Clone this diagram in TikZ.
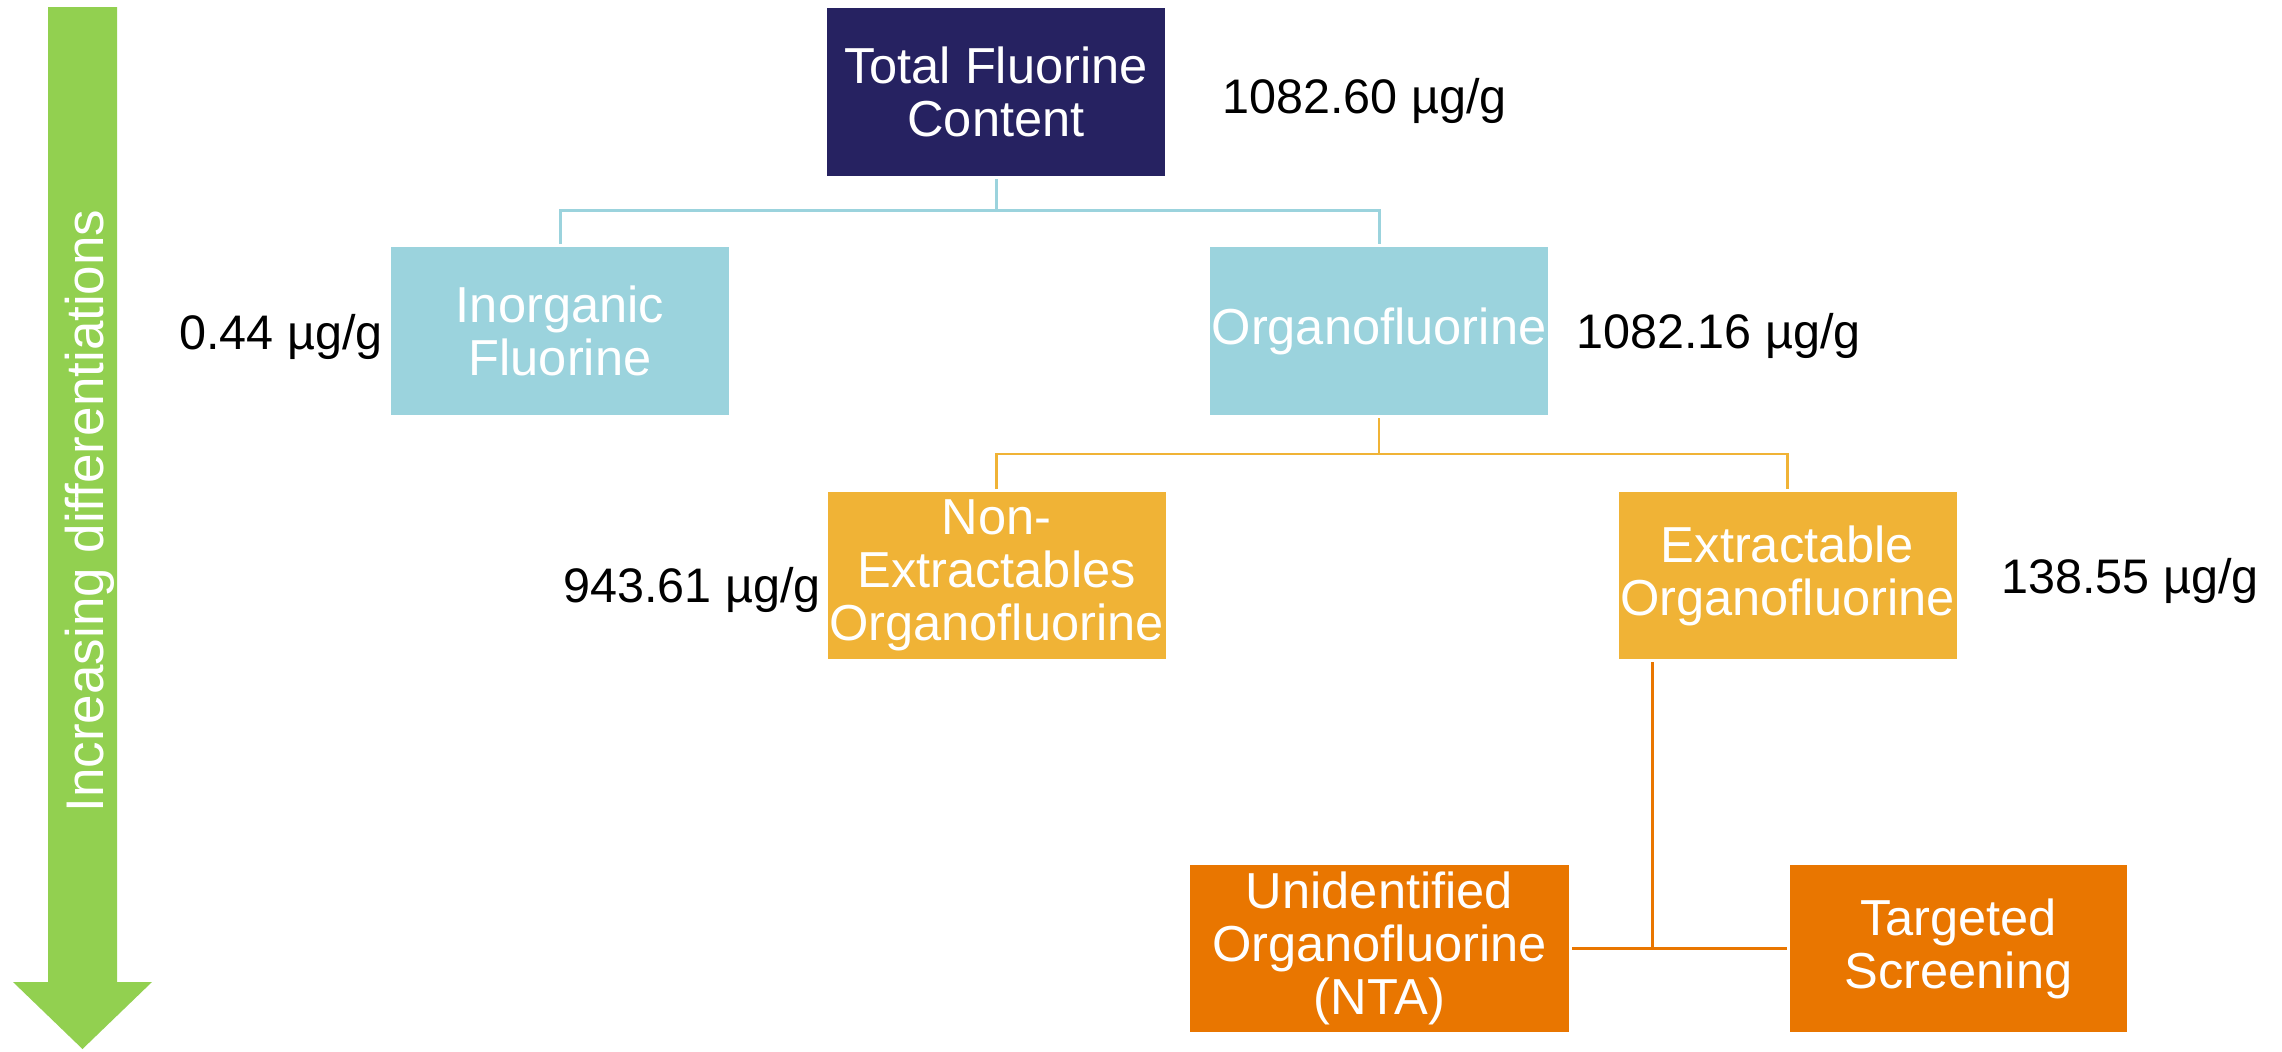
\documentclass[tikz,border=0pt]{standalone}
\usepackage{fontspec}
\setmainfont{Liberation Sans}
\definecolor{navy}{HTML}{262261}
\definecolor{cyanbox}{HTML}{9BD3DD}
\definecolor{lorange}{HTML}{F0B336}
\definecolor{dorange}{HTML}{E97600}
\definecolor{arrowgreen}{HTML}{92D050}
\begin{document}
\begin{tikzpicture}[x=0.5pt,y=-0.5pt,
  box/.style={rectangle, inner sep=0pt, outer sep=1.5pt, text=white, align=center,
    font=\fontsize{25.3pt}{26.5pt}\selectfont, minimum height=84pt, minimum width=169pt},
  lvlA/.style={box, fill=navy},
  lvlB/.style={box, fill=cyanbox},
  lvlC/.style={box, fill=lorange},
  lvlD/.style={box, fill=dorange},
  val/.style={inner sep=0pt, anchor=base west, text=black, font=\fontsize{24.25pt}{26.5pt}\selectfont},
  cline/.style={draw=cyanbox, line width=1.5pt},
  oline/.style={draw=lorange, line width=1.25pt},
  dline/.style={draw=dorange, line width=1.5pt}
]
\useasboundingbox (0,0) rectangle (2282,1051);
\fill[white] (0,0) rectangle (2282,1051);

% green arrow
\fill[arrowgreen] (48,7) -- (117,7) -- (117,982) -- (152,982) -- (82.5,1049) -- (13,982) -- (48,982) -- cycle;
\node[rotate=90, anchor=base, inner sep=0pt, text=white, font=\fontsize{26.5pt}{30pt}\selectfont] (arrowtxt) at (103,511) {Increasing differentiations};

% boxes
\node[lvlA] (tot) at (996,92) {Total Fluorine\\Content};
\node[lvlB] (inorg) at (560,331) {Inorganic\\Fluorine};
\node[lvlB] (org) at (1379,331) {Organofluorine};
\node[lvlC, minimum height=83.5pt] (nonext) at (996.5,575.5) {Non-\\Extractables\\Organofluorine};
\node[lvlC, minimum height=83.5pt] (ext) at (1787.5,575.5) {Extractable\\Organofluorine};
\node[lvlD, minimum height=83.5pt, minimum width=189.5pt] (unid) at (1379.5,948.5) {Unidentified\\Organofluorine\\(NTA)};
\node[lvlD, minimum height=83.5pt, minimum width=168.5pt] (targ) at (1958.5,948.5) {Targeted\\Screening};

% values
\node[val] (v1) at (1222,113) {1082.60 µg/g};
\node[val] (v2) at (179,349) {0.44 µg/g};
\node[val] (v3) at (1576,348) {1082.16 µg/g};
\node[val] (v4) at (563,602) {943.61 µg/g};
\node[val] (v5) at (2001,593) {138.55 µg/g};

% connectors
\coordinate (j1) at (996,210);
\draw[cline] (tot) -- (j1);
\draw[cline] (inorg.north) |- (j1) -| (org.north);

\coordinate (j2) at (1379,454);
\draw[oline] (org) -- (j2);
\draw[oline] (nonext.north) |- (j2) -| (ext.north);

\coordinate (j3) at (1652,948.5);
\draw[dline] (ext.south -| j3) -- (j3);
\draw[dline] (unid.east) -- (targ.west);
\end{tikzpicture}
\end{document}
